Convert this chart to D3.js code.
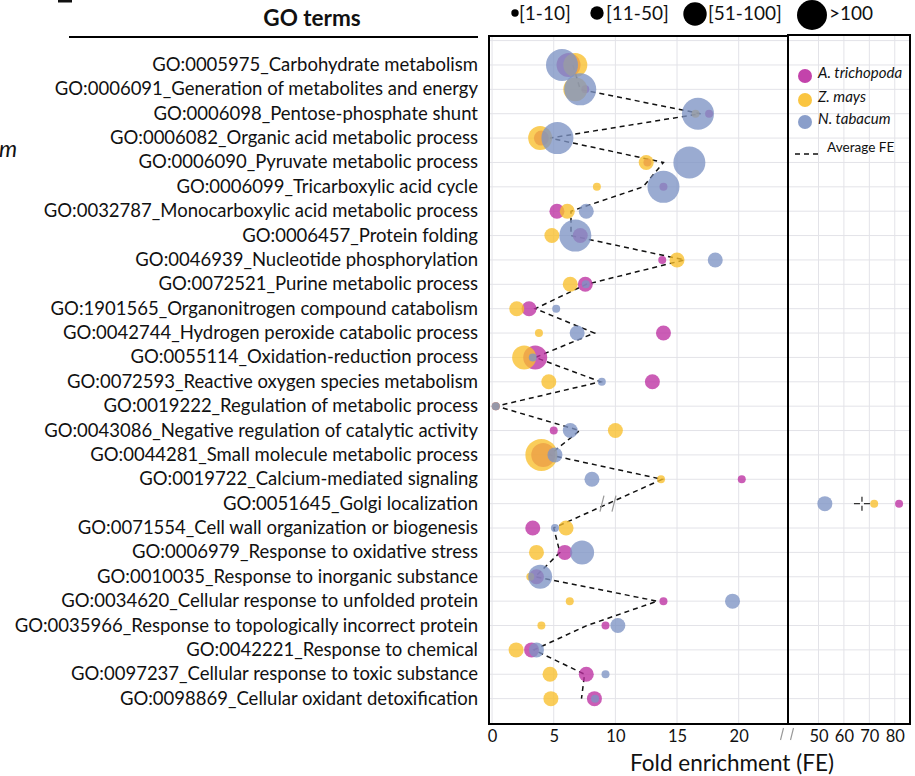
<!DOCTYPE html>
<html>
<head>
<meta charset="utf-8">
<script src="https://cdn.jsdelivr.net/npm/d3@7"></script>
<style>
  body { margin: 0; background: #fff; }
  svg { display: block; }
  text { font-family: Lato, "Liberation Sans", sans-serif; fill: #111; }
</style>
</head>
<body>
<svg id="chart" width="915" height="776"></svg>
<script>
// GO terms, top to bottom
var terms = [
  'GO:0005975_Carbohydrate metabolism',
  'GO:0006091_Generation of metabolites and energy',
  'GO:0006098_Pentose-phosphate shunt',
  'GO:0006082_Organic acid metabolic process',
  'GO:0006090_Pyruvate metabolic process',
  'GO:0006099_Tricarboxylic acid cycle',
  'GO:0032787_Monocarboxylic acid metabolic process',
  'GO:0006457_Protein folding',
  'GO:0046939_Nucleotide phosphorylation',
  'GO:0072521_Purine metabolic process',
  'GO:1901565_Organonitrogen compound catabolism',
  'GO:0042744_Hydrogen peroxide catabolic process',
  'GO:0055114_Oxidation-reduction process',
  'GO:0072593_Reactive oxygen species metabolism',
  'GO:0019222_Regulation of metabolic process',
  'GO:0043086_Negative regulation of catalytic activity',
  'GO:0044281_Small molecule metabolic process',
  'GO:0019722_Calcium-mediated signaling',
  'GO:0051645_Golgi localization',
  'GO:0071554_Cell wall organization or biogenesis',
  'GO:0006979_Response to oxidative stress',
  'GO:0010035_Response to inorganic substance',
  'GO:0034620_Cellular response to unfolded protein',
  'GO:0035966_Response to topologically incorrect protein',
  'GO:0042221_Response to chemical',
  'GO:0097237_Cellular response to toxic substance',
  'GO:0098869_Cellular oxidant detoxification'
]

// fold enrichment per species, and gene count class (1:[1-10] 2:[11-50] 3:[51-100] 4:>100)
var atri     = [6.2, 7.56, 17.6, 4.0, 12.6, 13.9, 5.26, 7.15, 13.8, 7.56, 3.0, 13.9, 3.5, 13.0, 0.3, 5.0, 4.15, 20.25, 81.7, 3.3, 5.9, 3.6, 13.9, 9.2, 3.2, 7.64, 8.3]
var atriSize = [3, 1, 1, 2, 1, 1, 2, 2, 1, 2, 2, 2, 3, 2, 1, 1, 3, 1, 1, 2, 2, 2, 1, 1, 2, 2, 2]
var zmay     = [6.75, 6.75, 16.5, 3.9, 12.5, 8.5, 6.1, 4.85, 15.0, 6.34, 2.0, 3.8, 2.6, 4.6, 0.3, 10.0, 4.0, 13.7, 71.9, 6.0, 3.6, 3.1, 6.3, 4.0, 1.95, 4.7, 4.77]
var zmaySize = [3, 3, 1, 3, 2, 1, 2, 2, 2, 2, 2, 1, 3, 2, 1, 2, 4, 1, 1, 2, 2, 1, 1, 1, 2, 2, 2]
var ntab     = [5.67, 7.15, 16.7, 5.3, 16.0, 13.9, 7.64, 6.75, 18.1, 7.6, 5.2, 6.9, 3.3, 8.9, 0.3, 6.34, 5.1, 8.1, 52.5, 5.1, 7.3, 3.9, 19.5, 10.2, 3.6, 9.2, 8.35]
var ntabSize = [4, 4, 4, 4, 4, 4, 2, 4, 2, 1, 1, 2, 1, 1, 1, 2, 2, 2, 2, 1, 3, 3, 2, 2, 2, 1, 1]
// average FE (dashed line)
var avgFE    = [6.55, 7.15, 16.9, 4.7, 13.9, 12.25, 6.4, 6.4, 15.6, 7.64, 3.5, 8.3, 3.5, 8.8, 0.35, 7.1, 4.66, 13.8, 67.1, 5.0, 5.5, 3.5, 13.4, 7.7, 3.4, 7.5, 7.25]

var sizeLabels = ['[1-10]', '[11-50]', '[51-100]', '>100']
var ticksLeft = [0, 5, 10, 15, 20]
var ticksRight = [50, 60, 70, 80]
var breakAt = 30   // values above this go in the right panel

var colors = {atri: '#bd2fa2', zmay: '#f9bf2c', ntab: '#7d94c4'}
var radius = [0, 4, 7.5, 12, 16]

var svg = d3.select('#chart')

var yTop = 36, yBot = 724
var xL = d3.scaleLinear().domain([-0.25, 24]).range([489, 788])
var xR = d3.scaleLinear().domain([38, 86]).range([788, 910])
var y = d3.scaleLinear().domain([-1, 27]).range([40.6, 723])
function xp(v){ return v > breakAt ? xR(v) : xL(v) }

// grid
var grid = svg.append('g')
grid.selectAll('.hg').data(d3.range(-1, 27)).enter().append('line')
  .attr('x1', 489).attr('x2', 910)
  .attr('y1', d => y(d)).attr('y2', d => y(d))
  .attr('stroke', '#e3e3e8').attr('stroke-width', 1)
grid.selectAll('.vl').data(ticksLeft).enter().append('line')
  .attr('x1', d => xL(d)).attr('x2', d => xL(d))
  .attr('y1', yTop).attr('y2', yBot)
  .attr('stroke', '#e3e3e8')
grid.selectAll('.vr').data(ticksRight).enter().append('line')
  .attr('x1', d => xR(d)).attr('x2', d => xR(d))
  .attr('y1', yTop).attr('y2', yBot)
  .attr('stroke', '#e3e3e8')

// dashed average line, row 18 sits in the right panel so it is skipped
var line = d3.line().x(d => xL(d.v)).y(d => y(d.i))
var avgPts = avgFE.map((v, i) => ({v: v, i: i})).filter(d => d.v <= breakAt)
svg.append('path')
  .datum(avgPts)
  .attr('d', line)
  .attr('fill', 'none')
  .attr('stroke', '#111')
  .attr('stroke-width', 1.5)
  .attr('stroke-dasharray', '5,4')

// break marks on the 17 -> 19 segment
var mx = (xL(avgFE[17]) + xL(avgFE[19])) / 2, my = (y(17) + y(19)) / 2
;[-6, 6].forEach(function(o){
  svg.append('line')
    .attr('x1', mx + o - 2).attr('y1', my + 8)
    .attr('x2', mx + o + 2).attr('y2', my - 8)
    .attr('stroke', '#999').attr('stroke-width', 1.2)
})

// cross marker for the average in the right panel
var ca = xR(avgFE[18]), cy = y(18)
svg.append('path')
  .attr('d', 'M' + (ca - 8) + ',' + cy + 'H' + (ca - 2) + 'M' + (ca + 2) + ',' + cy + 'H' + (ca + 8)
    + 'M' + ca + ',' + (cy - 7) + 'V' + (cy - 2) + 'M' + ca + ',' + (cy + 2) + 'V' + (cy + 7))
  .attr('stroke', '#333').attr('stroke-width', 1.3).attr('fill', 'none')

// bubbles: magenta, then yellow, then blue on top
function drawSeries(vals, sizes, col){
  svg.append('g').selectAll('circle').data(vals).enter().append('circle')
    .attr('cx', d => xp(d))
    .attr('cy', (d, i) => y(i))
    .attr('r', (d, i) => radius[sizes[i]])
    .attr('fill', col)
    .attr('fill-opacity', 0.78)
}
drawSeries(atri, atriSize, colors.atri)
drawSeries(zmay, zmaySize, colors.zmay)
drawSeries(ntab, ntabSize, colors.ntab)

// frame
svg.append('rect').attr('x', 489).attr('y', yTop).attr('width', 299).attr('height', yBot - yTop)
  .attr('fill', 'none').attr('stroke', '#000').attr('stroke-width', 2)
svg.append('rect').attr('x', 788).attr('y', yTop - 1).attr('width', 122).attr('height', yBot - yTop + 1)
  .attr('fill', 'none').attr('stroke', '#000').attr('stroke-width', 2)

// x axes
var axL = svg.append('g').attr('transform', 'translate(0,' + yBot + ')')
  .call(d3.axisBottom(xL).tickValues(ticksLeft).tickSize(0).tickPadding(6))
var axR = svg.append('g').attr('transform', 'translate(0,' + yBot + ')')
  .call(d3.axisBottom(xR).tickValues(ticksRight).tickSize(0).tickPadding(6))
;[axL, axR].forEach(function(a){
  a.select('.domain').remove()
  a.selectAll('text').attr('font-size', 16.5).attr('font-family', 'Lato, sans-serif').attr('fill', '#111')
})
// axis break marks
;[782, 792].forEach(function(x){
  svg.append('line').attr('x1', x - 1.5).attr('y1', 740).attr('x2', x + 1.5).attr('y2', 728)
    .attr('stroke', '#999').attr('stroke-width', 1.2)
})

svg.append('text').attr('x', 732).attr('y', 771).attr('text-anchor', 'middle')
  .attr('font-size', 22.5).text('Fold enrichment (FE)')

// GO term labels
svg.append('g').selectAll('text').data(terms).enter().append('text')
  .attr('x', 478).attr('y', (d, i) => y(i) + 6)
  .attr('text-anchor', 'end')
  .attr('font-size', 18.5)
  .text(d => d)

svg.append('text').attr('x', 312).attr('y', 26).attr('text-anchor', 'middle')
  .attr('font-size', 22.5).attr('font-weight', 'bold').text('GO terms')
svg.append('line').attr('x1', 69).attr('x2', 478).attr('y1', 37).attr('y2', 37)
  .attr('stroke', '#000').attr('stroke-width', 2)

// cropped bits at the left edge of the original figure
svg.append('text').attr('x', -1).attr('y', 157).attr('font-size', 23).attr('font-style', 'italic').text('m')
svg.append('rect').attr('x', 58).attr('y', 0).attr('width', 14).attr('height', 2.5).attr('fill', '#111')

// size legend
var sizeLeg = [{cx: 515, cy: 13, tx: 519}, {cx: 597, cy: 13, tx: 606}, {cx: 695, cy: 14, tx: 708}, {cx: 812, cy: 15, tx: 829}]
sizeLeg.forEach(function(s, i){
  var rr = [3.7, 6.7, 11.7, 15][i]
  svg.append('circle').attr('cx', s.cx).attr('cy', s.cy).attr('r', rr).attr('fill', '#000')
  svg.append('text').attr('x', s.tx).attr('y', 20).attr('font-size', 19).text(sizeLabels[i])
})

// species legend
var species = [['A. trichopoda', colors.atri], ['Z. mays', colors.zmay], ['N. tabacum', colors.ntab]]
species.forEach(function(s, i){
  var yy = [76, 100, 122][i]
  svg.append('circle').attr('cx', 805).attr('cy', yy).attr('r', 7).attr('fill', s[1]).attr('fill-opacity', 0.9)
  svg.append('text').attr('x', 818).attr('y', yy + 2).attr('font-size', 15).attr('font-style', 'italic').text(s[0])
})
svg.append('line').attr('x1', 795).attr('x2', 818).attr('y1', 154).attr('y2', 154)
  .attr('stroke', '#111').attr('stroke-width', 1.3).attr('stroke-dasharray', '5,4')
svg.append('text').attr('x', 827).attr('y', 152).attr('font-size', 13.6).text('Average FE')
</script>
</body>
</html>
